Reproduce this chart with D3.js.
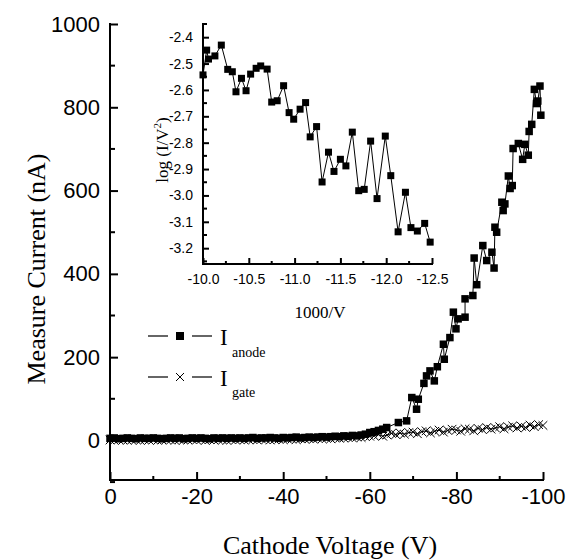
<!DOCTYPE html>
<html><head><meta charset="utf-8">
<script src="https://cdn.jsdelivr.net/npm/d3@7"></script>
<style>
html,body{margin:0;padding:0;background:#fff;}
svg{display:block;}
</style></head>
<body>
<svg id="chart" width="571" height="560"></svg>
<script>
// ---------- DATA ----------
// Main plot: anode current (nA) vs cathode voltage (V)
const anodeLowVoltage = d3.range(0, -58, -1); // 0 .. -57 V, 1 V step (measurement grid)
const anodeLowCurrent = [
  5,6,4,5,6,5,4,6,5,5,
  6,5,4,5,6,5,6,4,5,6,
  5,6,5,4,6,5,6,5,6,5,
  6,5,6,7,5,6,6,7,6,5,
  7,6,7,8,6,7,8,7,8,9,
  8,9,10,9,11,10,12,11
];
const anodeHighVoltage = [-58,-59,-60,-61,-62,-63,-63.9,-66.6,-68.5,-69.7,-70.8,-71.2,-72.5,-73.1,-73.9,-74.9,-75.6,-77.0,-77.2,-78.5,-79.3,-79.9,-80.4,-82.0,-82.0,-83.8,-84.1,-84.7,-86.1,-87.0,-88.2,-88.7,-88.9,-89.3,-90.5,-90.8,-91.2,-92.0,-92.4,-92.9,-93.1,-94.3,-95.3,-95.8,-96.6,-96.8,-97.4,-98.0,-98.5,-98.8,-99.3,-99.5];
const anodeHighCurrent = [13,15,19,21,24,27,31,43,47,103,75,99,137,155,167,143,177,231,195,247,308,268,292,296,340,348,438,374,468,432,452,414,512,500,572,552,568,635,605,612,701,713,675,711,685,742,759,843,809,815,851,781];

// gate current (nA), 1 V step from 0 to -100 V
const gateVoltage = d3.range(0, -101, -1);
const gateCurrent = [
  1,0,2,1,0,1,2,0,1,1,
  2,0,1,2,1,0,2,1,1,2,
  1,2,0,2,1,2,1,0,2,1,
  2,1,2,2,1,3,2,1,2,3,
  2,3,3,2,4,3,4,3,5,4,
  5,4,6,5,6,7,6,8,7,9,
  10,11,14,10,13,17,14,18,15,19,
  20,16,21,23,18,22,25,20,24,27,
  25,22,28,27,23,29,26,31,27,30,
  33,28,32,35,30,34,31,37,33,38,
  36
];

// Inset: log(I/V^2) vs 1000/V
const insetX = [-10.00,-10.04,-10.06,-10.13,-10.20,-10.27,-10.32,-10.36,-10.42,-10.47,-10.52,-10.58,-10.63,-10.70,-10.75,-10.81,-10.88,-10.94,-10.99,-11.06,-11.12,-11.17,-11.24,-11.30,-11.37,-11.43,-11.50,-11.56,-11.63,-11.70,-11.76,-11.83,-11.90,-11.99,-12.05,-12.13,-12.21,-12.27,-12.34,-12.42,-12.48];
const insetY = [-2.543,-2.449,-2.483,-2.471,-2.430,-2.522,-2.531,-2.607,-2.556,-2.603,-2.540,-2.518,-2.509,-2.521,-2.646,-2.641,-2.584,-2.686,-2.711,-2.673,-2.648,-2.778,-2.739,-2.949,-2.836,-2.909,-2.863,-2.888,-2.760,-2.982,-2.977,-2.794,-3.012,-2.775,-2.925,-3.138,-2.988,-3.122,-3.135,-3.106,-3.177];

// Tick labels
const mainXTicks = [0,-20,-40,-60,-80,-100];
const mainXMinor = [-10,-30,-50,-70,-90];
const mainYTicks = [0,200,400,600,800,1000];
const mainYMinor = [-100,100,300,500,700,900];
const insetXTicks = [-10.0,-10.5,-11.0,-11.5,-12.0,-12.5];
const insetXMinor = [-10.25,-10.75,-11.25,-11.75,-12.25];
const insetYTicks = [-2.4,-2.5,-2.6,-2.7,-2.8,-2.9,-3.0,-3.1,-3.2];
const insetYMinor = [-2.35,-2.45,-2.55,-2.65,-2.75,-2.85,-2.95,-3.05,-3.15,-3.25];

// ---------- DRAW ----------
const SERIF = "Liberation Serif, Times New Roman, serif";
const SANS = "Liberation Sans, Arial, sans-serif";
const hy = s => String(s).replace("\u2212","-");
const svg = d3.select("#chart");
const anode = anodeLowVoltage.map((v,i)=>({v, c: anodeLowCurrent[i]}))
  .concat(anodeHighVoltage.map((v,i)=>({v, c: anodeHighCurrent[i]})));
const gate = gateVoltage.map((v,i)=>({v, c: gateCurrent[i]}));
const inset = insetX.map((x,i)=>({x, y: insetY[i]}));

const x = d3.scaleLinear().domain([0,-100]).range([110,543]);
const y = d3.scaleLinear().domain([-95,1000]).range([480,24]);

// gate crosses
const gG = svg.append("g");
const cs = 4.3;
gG.append("path").datum(gate)
  .attr("d", d3.line().x(d=>x(d.v)).y(d=>y(d.c)))
  .attr("stroke","#000").attr("stroke-width",1).attr("fill","none");
gG.selectAll("path.m").data(gate).join("path").attr("class","m")
  .attr("d", d => {const px=x(d.v), py=y(d.c);
    return `M${px-cs},${py-cs}L${px+cs},${py+cs}M${px-cs},${py+cs}L${px+cs},${py-cs}`;})
  .attr("stroke","#000").attr("stroke-width",1).attr("fill","none");

// anode line + squares
svg.append("path").datum(anode)
  .attr("d", d3.line().x(d=>x(d.v)).y(d=>y(d.c)))
  .attr("stroke","#000").attr("stroke-width",1).attr("fill","none");
const sq = 7.5;
svg.append("g").selectAll("rect").data(anode).join("rect")
  .attr("x", d=>x(d.v)-sq/2).attr("y", d=>y(d.c)-sq/2)
  .attr("width", sq).attr("height", sq).attr("fill","#000");

// main axes
const xAx = d3.axisBottom(x).tickValues(mainXTicks).tickSize(-8).tickPadding(8)
  .tickFormat(d=> hy(d3.format("d")(d)));
const gx = svg.append("g").attr("transform","translate(0,480)").call(xAx);
gx.select(".domain").attr("stroke-width",2).attr("d","M109,0H544");
gx.selectAll(".tick line").attr("stroke-width",2);
gx.selectAll("text").attr("font-family",SANS).attr("font-size",22).attr("fill","#000").attr("dy","0.71em");
svg.append("g").selectAll("line").data(mainXMinor).join("line")
  .attr("x1",d=>x(d)).attr("x2",d=>x(d)).attr("y1",480).attr("y2",476)
  .attr("stroke","#000").attr("stroke-width",2);

const yAx = d3.axisLeft(y).tickValues(mainYTicks).tickSize(-8).tickPadding(10)
  .tickFormat(d=> hy(d3.format("d")(d)));
const gy = svg.append("g").attr("transform","translate(110,0)").call(yAx);
gy.select(".domain").attr("stroke-width",2).attr("d","M0,481V23");
gy.selectAll(".tick line").attr("stroke-width",2);
gy.selectAll("text").attr("font-family",SANS).attr("font-size",22).attr("fill","#000");
svg.append("g").selectAll("line").data(mainYMinor).join("line")
  .attr("x1",110).attr("x2",115).attr("y1",d=>y(d)).attr("y2",d=>y(d))
  .attr("stroke","#000").attr("stroke-width",2);

// main titles
svg.append("text").attr("font-family",SERIF).attr("font-size",26)
  .attr("transform","translate(45,269) rotate(-90)").attr("text-anchor","middle")
  .text("Measure Current (nA)");
svg.append("text").attr("font-family",SERIF).attr("font-size",26)
  .attr("x",330).attr("y",554).attr("text-anchor","middle")
  .text("Cathode Voltage (V)");

// legend
const lg = svg.append("g");
[[336,"sq","anode",357],[377,"x","gate",397]].forEach(([ly,m,sub,sy])=>{
  lg.append("line").attr("x1",148).attr("x2",168).attr("y1",ly).attr("y2",ly).attr("stroke","#000").attr("stroke-width",1.2);
  lg.append("line").attr("x1",192).attr("x2",212).attr("y1",ly).attr("y2",ly).attr("stroke","#000").attr("stroke-width",1.2);
  if(m==="sq") lg.append("rect").attr("x",176).attr("y",ly-4).attr("width",8).attr("height",8).attr("fill","#000");
  else lg.append("path").attr("d",`M176,${ly-4}L184,${ly+4}M176,${ly+4}L184,${ly-4}`).attr("stroke","#000").attr("stroke-width",1);
  lg.append("text").attr("font-family",SERIF).attr("font-size",23).attr("x",220).attr("y",ly+9).text("I");
  lg.append("text").attr("font-family",SERIF).attr("font-size",14).attr("x",232).attr("y",sy).text(sub);
});

// ---------- INSET ----------
const ix = d3.scaleLinear().domain([-10,-12.5]).range([203,432]);
const iy = d3.scaleLinear().domain([-3.26,-2.35]).range([264,24]);
svg.append("path").datum(inset)
  .attr("d", d3.line().x(d=>ix(d.x)).y(d=>iy(d.y)))
  .attr("stroke","#000").attr("stroke-width",1).attr("fill","none");
svg.append("g").selectAll("rect").data(inset).join("rect")
  .attr("x", d=>ix(d.x)-3.5).attr("y", d=>iy(d.y)-3.5)
  .attr("width",7).attr("height",7).attr("fill","#000");

const ixAx = d3.axisBottom(ix).tickValues(insetXTicks).tickSize(-6).tickPadding(10)
  .tickFormat(d=> hy(d3.format(".1f")(d)));
const gix = svg.append("g").attr("transform","translate(0,264)").call(ixAx);
gix.select(".domain").attr("stroke-width",2).attr("d","M202,0H433");
gix.selectAll(".tick line").attr("stroke-width",2);
gix.selectAll("text").attr("font-family",SANS).attr("font-size",14).attr("fill","#000");
svg.append("g").selectAll("line").data(insetXMinor).join("line")
  .attr("x1",d=>ix(d)).attr("x2",d=>ix(d)).attr("y1",264).attr("y2",261)
  .attr("stroke","#000").attr("stroke-width",2);

const iyAx = d3.axisLeft(iy).tickValues(insetYTicks).tickSize(-6).tickPadding(10)
  .tickFormat(d=> hy(d3.format(".1f")(d)));
const giy = svg.append("g").attr("transform","translate(203,0)").call(iyAx);
giy.select(".domain").attr("stroke-width",2).attr("d","M0,265V23");
giy.selectAll(".tick line").attr("stroke-width",2);
giy.selectAll("text").attr("font-family",SANS).attr("font-size",14).attr("fill","#000");
svg.append("g").selectAll("line").data(insetYMinor).join("line")
  .attr("x1",203).attr("x2",207).attr("y1",d=>iy(d)).attr("y2",d=>iy(d))
  .attr("stroke","#000").attr("stroke-width",2);

const yt = svg.append("text").attr("font-family",SERIF).attr("font-size",17)
  .attr("transform","translate(168,150) rotate(-90)").attr("text-anchor","middle");
yt.append("tspan").text("log (I/V");
yt.append("tspan").attr("font-size",11).attr("dy",-7).text("2");
yt.append("tspan").attr("dy",7).text(")");
svg.append("text").attr("font-family",SERIF).attr("font-size",17)
  .attr("x",320).attr("y",318).attr("text-anchor","middle").text("1000/V");
</script>
</body></html>
